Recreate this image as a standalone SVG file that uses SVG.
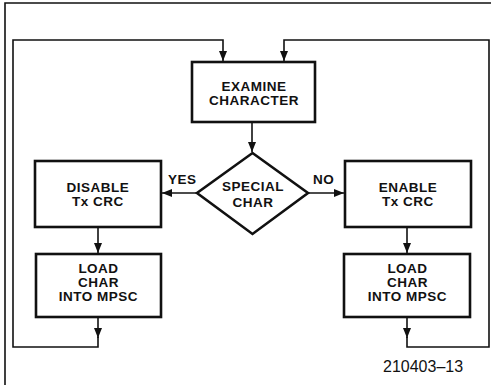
<svg xmlns="http://www.w3.org/2000/svg" width="491" height="385" viewBox="0 0 491 385">
<style>
.box{fill:#fff;stroke:#111;stroke-width:2.6}
.ln{fill:none;stroke:#111;stroke-width:1.6}
.t{font-family:"Liberation Sans",Arial,sans-serif;font-weight:bold;font-size:13.5px;letter-spacing:0.5px;fill:#111;text-anchor:middle}
.l{font-family:"Liberation Sans",Arial,sans-serif;font-weight:bold;font-size:13.5px;letter-spacing:0.5px;fill:#111}
.cap{font-family:"Liberation Sans",Arial,sans-serif;font-size:16px;fill:#111}
</style>
<defs>
<marker id="ah" markerWidth="12" markerHeight="10" refX="10" refY="4" orient="auto" markerUnits="userSpaceOnUse">
<path d="M0,0 L10,4 L0,8 Z" fill="#111"/>
</marker>
</defs>
<rect width="491" height="385" fill="#fff"/>
<g id="frame">
<path class="ln" d="M5,385 V3 H491"/>
</g>
<g id="connectors">
<path class="ln" d="M98,337 V347 H13 V40 H223 V61" marker-end="url(#ah)"/>
<path class="ln" d="M98,317 V338" marker-end="url(#ah)"/>
<path class="ln" d="M407,337 V347 H489 V40 H284 V61" marker-end="url(#ah)"/>
<path class="ln" d="M407,317 V338" marker-end="url(#ah)"/>
<path class="ln" d="M252,122 V152" marker-end="url(#ah)"/>
<path class="ln" d="M197,193 H162" marker-end="url(#ah)"/>
<path class="ln" d="M308,193 H344" marker-end="url(#ah)"/>
<path class="ln" d="M98,227 V253" marker-end="url(#ah)"/>
<path class="ln" d="M407,227 V253" marker-end="url(#ah)"/>
</g>
<g id="examine">
<rect class="box" x="192" y="62" width="123" height="60"/>
<text class="t" x="254" y="91">EXAMINE</text>
<text class="t" x="254" y="105">CHARACTER</text>
</g>
<g id="special">
<polygon class="box" points="252.5,153 308,193 252.5,234 197,193"/>
<text class="t" x="253" y="191">SPECIAL</text>
<text class="t" x="253" y="207">CHAR</text>
</g>
<g id="labels">
<text class="l" x="168" y="184">YES</text>
<text class="l" x="313" y="184">NO</text>
</g>
<g id="disable">
<rect class="box" x="35" y="161" width="126" height="66"/>
<text class="t" x="98" y="191.5">DISABLE</text>
<text class="t" x="98" y="206">Tx CRC</text>
</g>
<g id="enable">
<rect class="box" x="345" y="161" width="126" height="66"/>
<text class="t" x="408" y="191.5">ENABLE</text>
<text class="t" x="408" y="206">Tx CRC</text>
</g>
<g id="load-left">
<rect class="box" x="36" y="254" width="125" height="63"/>
<text class="t" x="98.5" y="273">LOAD</text>
<text class="t" x="98.5" y="287">CHAR</text>
<text class="t" x="98.5" y="301">INTO MPSC</text>
</g>
<g id="load-right">
<rect class="box" x="344" y="254" width="126" height="63"/>
<text class="t" x="407.5" y="273">LOAD</text>
<text class="t" x="407.5" y="287">CHAR</text>
<text class="t" x="407.5" y="301">INTO MPSC</text>
</g>
<text class="cap" x="383" y="372">210403–13</text>
</svg>
